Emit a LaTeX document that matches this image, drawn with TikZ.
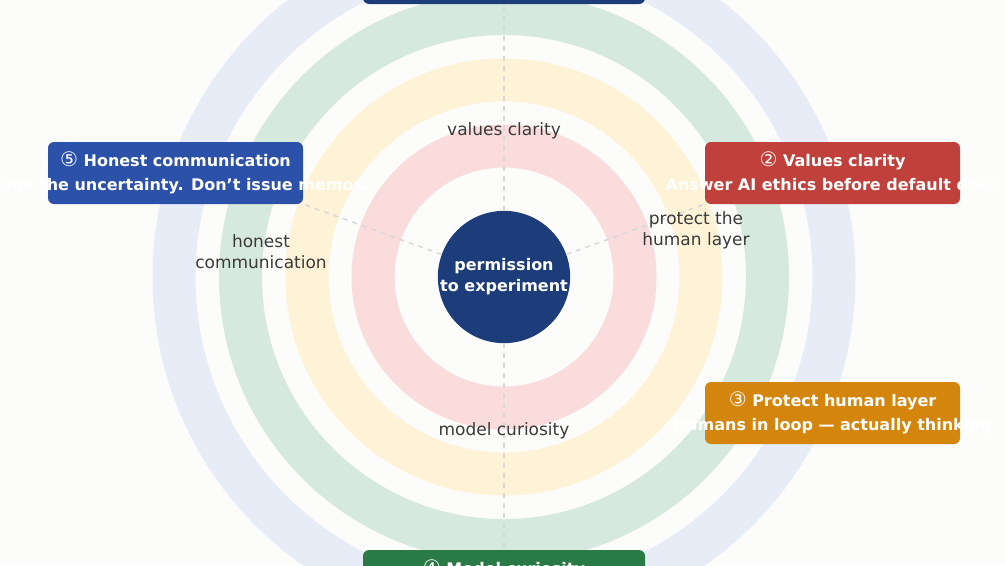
\documentclass[tikz,border=0pt]{standalone}
\usepackage{fontspec}
\setmainfont{DejaVu Sans}
\usetikzlibrary{positioning}

\definecolor{paper}{HTML}{FCFCFA}
\definecolor{ringblue}{HTML}{E8ECF7}
\definecolor{ringgreen}{HTML}{D6E9DF}
\definecolor{ringyellow}{HTML}{FEF3D6}
\definecolor{ringpink}{HTML}{F9DCDB}
\definecolor{navy}{HTML}{1C3D7A}
\definecolor{tagred}{HTML}{C0413B}
\definecolor{tagorange}{HTML}{D4850B}
\definecolor{taggreen}{HTML}{2A7A45}
\definecolor{tagblue}{HTML}{2C51A8}
\definecolor{ink}{HTML}{3A3A3A}
\definecolor{dashgray}{HTML}{D8D8D8}

\newcommand{\numc}[1]{{\mdseries\fontsize{20}{20}\selectfont #1}}

\begin{document}
\begin{tikzpicture}[x=1pt, y=-1pt,
  ring/.style = {line width=43pt},
  spoke/.style = {dashgray, line width=1.5pt, dash pattern=on 5pt off 5pt},
  tag/.style = {shape=rectangle, rounded corners=6pt, minimum height=62pt,
    inner sep=0pt},
  tagtext/.style = {text=white, inner sep=0pt, text height=12pt, text depth=4pt,
    font=\bfseries\fontsize{16}{20}\selectfont},
  ringlabel/.style = {text=ink, align=center, inner sep=0pt,
    font=\fontsize{17}{21}\selectfont}]
  \useasboundingbox (0,0) rectangle (1006,565);
  \clip (0,0) rectangle (1006,565);
  \fill[paper] (0,0) rectangle (1006,565);

  % hub and rings
  \node[shape=circle, fill=navy, minimum size=132pt, inner sep=0pt, align=center,
    text=white, font=\bfseries\fontsize{16}{21}\selectfont] (core) at (504,277)
    {permission\\to experiment};
  \foreach \rad/\col in {330/ringblue, 263.5/ringgreen, 197/ringyellow, 131/ringpink}
    \draw[ring, \col] (core.center) circle (\rad pt);

  % tags
  \node[tag, fill=navy, minimum width=282pt] (box1) at (504,-27) {};
  \node[tag, fill=tagred, minimum width=255pt] (box2) at (832.5,173) {};
  \node[tag, fill=tagorange, minimum width=255pt] (box3) at (832.5,413) {};
  \node[tag, fill=taggreen, minimum width=282pt] (box4) at (504,581) {};
  \node[tag, fill=tagblue, minimum width=255pt] (box5) at (175.5,173) {};

  % spokes
  \draw[spoke] (core) -- (box1);
  \draw[spoke] (core) -- (box2.south west);
  \draw[spoke] (core) -- (box4);
  \draw[spoke] (core) -- (box5.south east);

  % ring labels
  \node[ringlabel] (lab1) at (504,131) {values clarity};
  \node[ringlabel] (lab2) at (696,230) {protect the\\human layer};
  \node[ringlabel] (lab4) at (504,431) {model curiosity};
  \node[ringlabel] (lab5) at (261,252) {honest\\communication};

  % tag texts
  \node[tagtext] (t2) at ([yshift=-21pt]box2.north) {\numc{②} Values clarity};
  \node[tagtext, below=7pt of t2] {Answer AI ethics before default does};
  \node[tagtext] (t3) at ([yshift=-21pt]box3.north) {\numc{③} Protect human layer};
  \node[tagtext, below=7pt of t3] {Humans in loop — actually thinking};
  \node[tagtext] (t4) at ([yshift=-21pt]box4.north) {\numc{④} Model curiosity};
  \node[tagtext] (t5) at ([yshift=-21pt]box5.north) {\numc{⑤} Honest communication};
  \node[tagtext, below=7pt of t5] {Name the uncertainty. Don’t issue memos.};
\end{tikzpicture}
\end{document}
